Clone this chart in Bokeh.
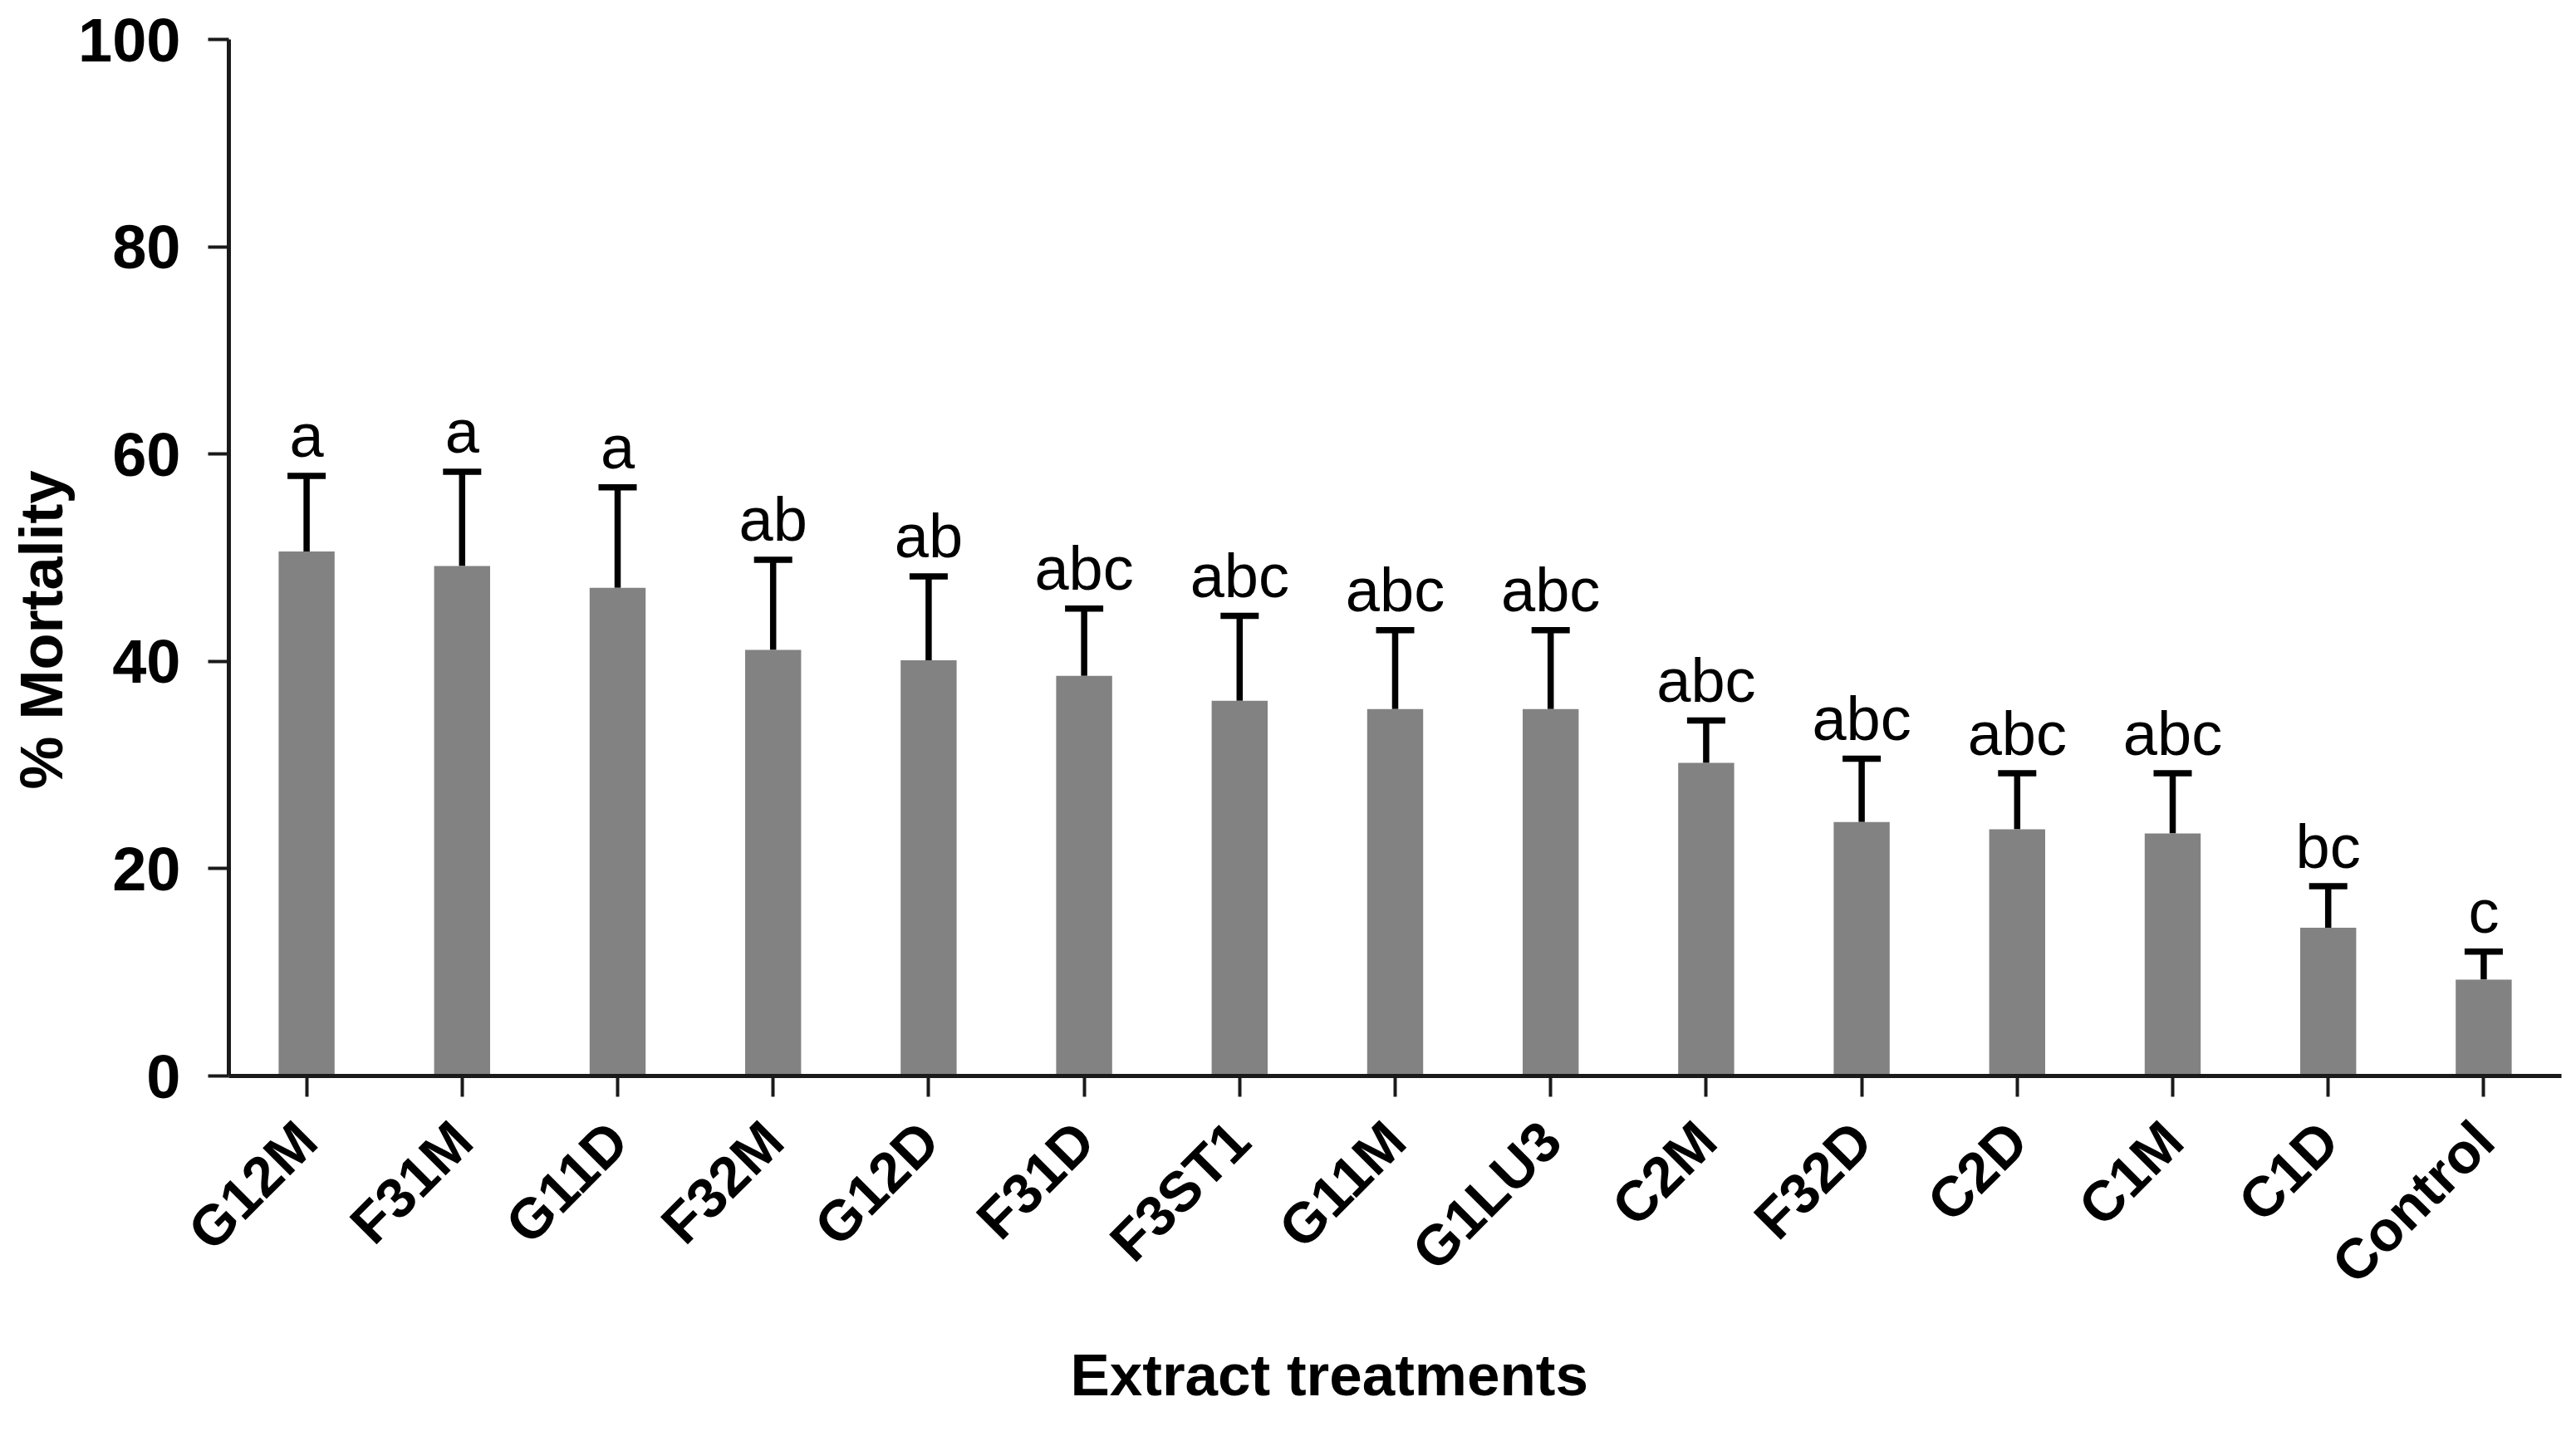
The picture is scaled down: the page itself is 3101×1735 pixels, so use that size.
import math
from bokeh.plotting import figure
from bokeh.models import ColumnDataSource, FactorRange, Range1d, FixedTicker, Whisker, TeeHead, Title
from bokeh.core.properties import value
from bokeh.embed import file_html
from bokeh.resources import INLINE

# ---- data ----
treatments = ["G12M", "F31M", "G11D", "F32M", "G12D", "F31D", "F3ST1", "G11M",
              "G1LU3", "C2M", "F32D", "C2D", "C1M", "C1D", "Control"]
mortality = [50.6, 49.2, 47.1, 41.1, 40.1, 38.6, 36.2, 35.4, 35.4, 30.2, 24.5, 23.8, 23.4, 14.3, 9.3]
error = [7.3, 9.1, 9.7, 8.7, 8.1, 6.5, 8.2, 7.6, 7.6, 4.1, 6.1, 5.4, 5.8, 4.0, 2.7]
letters = ["a", "a", "a", "ab", "ab", "abc", "abc", "abc", "abc", "abc", "abc", "abc", "abc", "bc", "c"]
y_ticks = [0, 20, 40, 60, 80, 100]

upper = [m + e for m, e in zip(mortality, error)]
src = ColumnDataSource(dict(x=treatments, top=mortality, upper=upper, letter=letters))

FONT = "Liberation Sans"

p = figure(width=3085, height=1719, x_range=FactorRange(*treatments), y_range=Range1d(0, 100),
           output_backend="svg", toolbar_location=None, title=None,
           min_border_left=275, min_border_right=2, min_border_top=47, min_border_bottom=424)
p.outline_line_color = None
p.xgrid.grid_line_color = None
p.ygrid.grid_line_color = None
p.background_fill_color = "white"

p.vbar(x="x", top="top", width=0.36, source=src, fill_color="#828282", line_color=None)

w = Whisker(source=src, base="x", lower="top", upper="upper", dimension="height",
            line_width=7.5, line_color="black",
            upper_head=TeeHead(size=46, line_width=7.5, line_color="black"), lower_head=None)
p.add_layout(w)

p.text(x="x", y="upper", text="letter", source=src, y_offset=-48,
       text_align="center", text_baseline="alphabetic",
       text_font=value(FONT), text_font_size="74px", text_color="black")

for ax in (p.xaxis[0], p.yaxis[0]):
    ax.axis_line_width = 5
    ax.axis_line_color = "#1a1a1a"
    ax.major_tick_line_width = 4
    ax.major_tick_line_color = "#1a1a1a"
    ax.major_tick_in = 0
    ax.major_tick_out = 25
    ax.minor_tick_line_color = None
    ax.major_label_text_font = FONT
    ax.major_label_text_font_style = "bold"
    ax.major_label_text_color = "black"

p.yaxis[0].ticker = FixedTicker(ticks=y_ticks)
p.yaxis[0].major_label_text_font_size = "74px"
p.yaxis[0].major_label_standoff = 33
p.xaxis[0].major_label_text_font_size = "68px"
p.xaxis[0].major_label_orientation = math.pi / 4
p.xaxis[0].major_label_standoff = 41

ytitle = Title(text="% Mortality", align="left", offset=345, standoff=4,
               text_font=FONT, text_font_style="bold", text_font_size="72px", text_color="black")
p.add_layout(ytitle, "left")
xtitle = Title(text="Extract treatments", align="left", offset=1013, standoff=48,
               text_font=FONT, text_font_style="bold", text_font_size="71px", text_color="black",
               text_line_height=1.0)
p.add_layout(xtitle, "below")

open("out.html", "w").write(file_html(p, INLINE))
